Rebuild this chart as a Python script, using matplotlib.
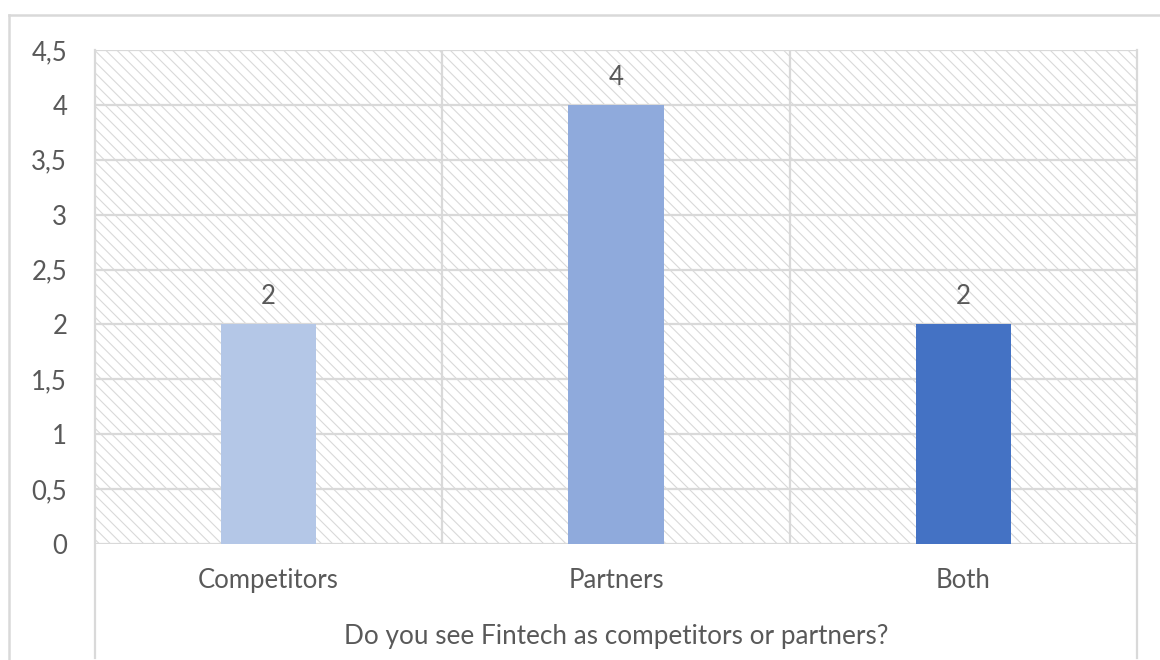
import matplotlib.pyplot as plt
from matplotlib.patches import Rectangle
from matplotlib.lines import Line2D
from matplotlib.ticker import FuncFormatter

categories = ['Competitors', 'Partners', 'Both']
values = [2, 4, 2]
colors = ['#B4C7E7', '#8FAADC', '#4472C4']
y_ticks = [0, 0.5, 1, 1.5, 2, 2.5, 3, 3.5, 4, 4.5]
x_title = 'Do you see Fintech as competitors or partners?'

grid_color = '#D9D9D9'
text_color = '#595959'
font_size = 18.5

plt.rcParams['font.family'] = ['Lato', 'DejaVu Sans']
plt.rcParams['hatch.color'] = '#CBCBCB'
plt.rcParams['hatch.linewidth'] = 0.8

fig = plt.figure(figsize=(11.6, 6.6), dpi=100)
ax = fig.add_axes([95 / 1160, 1 - 544 / 660, (1137 - 95) / 1160, (544 - 50) / 660])

# hatched plot-area background
ax.add_patch(Rectangle((0, 0), 1, 1, transform=ax.transAxes, facecolor='white',
                       edgecolor=grid_color, hatch='\\\\\\', linewidth=0, zorder=0))

x = list(range(len(categories)))
bars = ax.bar(x, values, width=0.274, color=colors, zorder=3)
ax.bar_label(bars, labels=[str(v) for v in values], padding=11,
             fontsize=font_size, color=text_color)

ax.set_xlim(-0.5, len(categories) - 0.5)
ax.set_ylim(0, 4.5)
ax.set_yticks(y_ticks)
ax.yaxis.set_major_formatter(FuncFormatter(lambda v, _: f'{v:g}'.replace('.', ',')))
ax.set_xticks(x)
ax.set_xticklabels(categories)

# horizontal gridlines and category separators
for t in y_ticks:
    ax.axhline(t, color=grid_color, linewidth=1.6, zorder=1)
for b in [0.5, 1.5]:
    ax.axvline(b, color=grid_color, linewidth=1.6, zorder=1)

ax.tick_params(axis='both', length=0, labelsize=font_size, labelcolor=text_color)
ax.tick_params(axis='y', pad=20)
ax.tick_params(axis='x', pad=17)
for s in ax.spines.values():
    s.set_visible(False)

# outer edges of the category axis run down past the labels
for xv in [-0.5, len(categories) - 0.5]:
    ax.add_line(Line2D([xv, xv], [4.5, -1.04], color=grid_color, linewidth=1.6,
                       clip_on=False, zorder=1))

ax.set_xlabel(x_title, fontsize=18.8, color=text_color, labelpad=22.5)

# chart border
fig.add_artist(Line2D([9 / 1160, 1], [1 - 15 / 660] * 2, color=grid_color, linewidth=1.8))
fig.add_artist(Line2D([9 / 1160] * 2, [0, 1 - 15 / 660], color=grid_color, linewidth=1.8))

fig.savefig('out.png', dpi=100, facecolor='white')
